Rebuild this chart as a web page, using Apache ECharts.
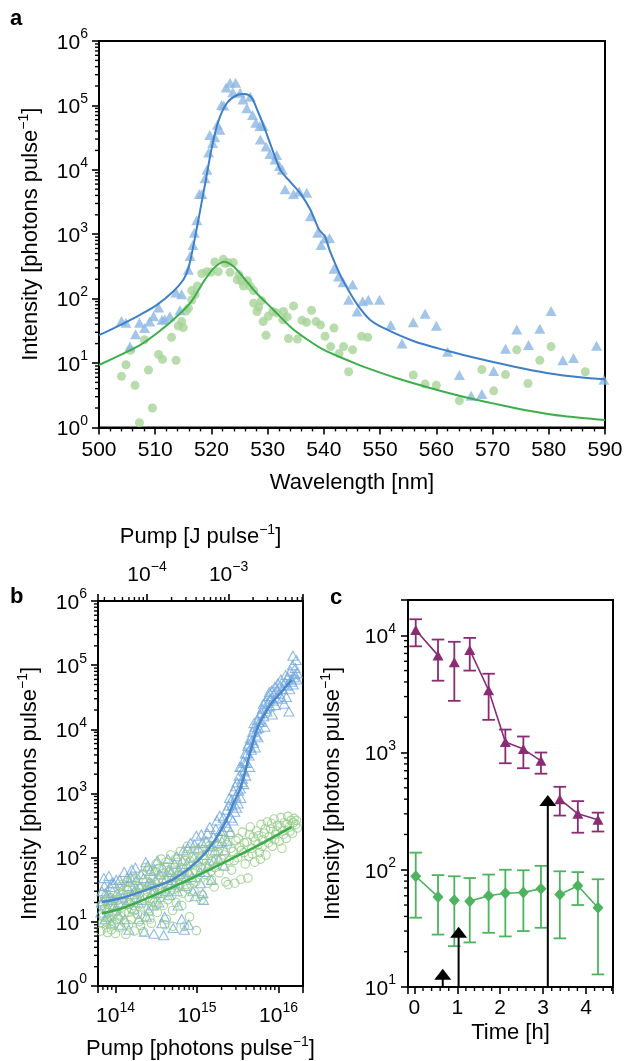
<!DOCTYPE html>
<html><head><meta charset="utf-8">
<script src="https://cdn.jsdelivr.net/npm/echarts@6/dist/echarts.min.js"></script>
<style>html,body{margin:0;padding:0;background:#fff}#c{width:633px;height:1061px}</style>
</head><body><div id="c"></div>
<script>
// ---------------- Panel a: spectra ----------------
const specBlueTri = [[504.0,45],[504.8,42],[505.5,18],[506.5,28],[507.2,42],[508.1,35],[509.0,44],[509.7,53],[510.6,73],[511.2,47],[511.7,48],[512.6,53],[513.7,124],[514.4,66],[514.7,117],[515.9,280],[516.2,460],[516.7,680],[516.96,1050],[517.4,1650],[517.85,4200],[518.3,4200],[518.86,7400],[519.2,10000],[519.5,18500],[519.7,34700],[520.2,26000],[520.6,32000],[521.05,50000],[521.5,42000],[521.8,101000],[522.2,100000],[522.6,190000],[523.3,224000],[523.8,160000],[524.3,224000],[525.1,157000],[525.6,124000],[526.3,90000],[526.9,136000],[527.3,71000],[527.9,54000],[528.6,48000],[528.7,29500],[529.2,48000],[529.7,23000],[530.4,17600],[531.3,14500],[531.6,17000],[532.1,11500],[532.6,10000],[533.1,5000],[534.6,4200],[535.6,4600],[536.95,4400],[537.6,1900],[538.9,1050],[539.5,680],[540.2,860],[541.0,870],[541.8,290],[542.6,220],[543.4,180],[544.4,96],[545.1,166],[545.9,63],[546.9,91],[547.9,96],[549.9,96],[551.9,39],[553.9,20],[555.9,43],[558.0,58],[560.0,38],[562.0,15],[564.1,6.5],[566.2,3.1],[568.1,3.3],[570.2,7.5],[572.3,16.6],[574.3,33],[576.4,19],[578.4,34],[580.4,64],[582.5,11],[584.4,12],[588.5,18.6],[589.8,5.5]];
const specGreenDot = [[504.0,6.2],[504.8,9.4],[505.6,15.8],[506.4,4.5],[507.2,1.18],[508.1,23],[508.8,7.8],[509.5,2.0],[510.6,13.6],[511.3,11.4],[512.9,25],[513.7,11],[514.1,37.6],[514.7,44],[515.0,35.5],[515.5,64],[515.9,71],[516.5,95],[516.5,133],[517.1,115],[517.5,157],[518.3,245],[519.2,262],[519.9,256],[520.6,370],[521.2,262],[522.1,407],[522.4,354],[523.0,362],[523.3,256],[523.9,362],[524.6,196],[524.9,234],[525.4,186],[525.7,157],[526.4,190],[526.9,155],[527.5,133],[527.5,85],[528.1,63],[528.4,74],[528.9,93],[529.2,44],[529.7,27],[530.1,53],[530.9,63],[531.6,60],[532.7,47],[532.8,63],[533.5,52],[533.7,24],[534.6,77],[535.3,23.5],[536.1,46],[536.9,43],[537.8,66],[538.6,44],[539.4,39],[540.2,26],[541.2,18],[541.8,35],[542.7,14],[543.5,18],[544.4,7.3],[545.1,16],[546.7,26],[547.8,25],[555.9,6.5],[558.0,4.7],[560.0,4.5],[564.1,2.6],[568.1,7.9],[570.2,3.7],[572.3,6.6],[574.3,16],[576.3,4.8],[578.4,11],[580.4,18],[586.5,7.3]];
const specBlueFit = [[500,27],[504.3,41],[507.3,56],[510.3,80],[513.2,129],[515.0,196],[515.9,295],[516.5,500],[517.1,910],[518.0,2370],[518.9,6200],[520.1,23000],[521.3,59000],[522.8,110000],[524.6,145000],[525.9,150000],[527.1,133000],[528.3,79000],[529.5,43000],[530.8,21000],[532.3,9800],[534.1,6400],[535.9,4200],[537.6,2400],[539.1,1200],[540.2,910],[541.1,540],[542.9,234],[544.7,120],[546.4,71],[548.2,47],[550.6,35],[555.9,22],[561.9,15.5],[567.8,11.5],[573.7,8.8],[579.6,7.0],[585.6,6.0],[590,5.6]];
const specGreenFit = [[500,9.3],[504.3,14],[507.3,19],[510.3,29],[513.2,47],[516.2,85],[518.6,183],[520.4,295],[522.2,375],[524.0,313],[526.3,183],[528.1,120],[531.1,66],[534.1,36],[537.1,23],[540.0,16],[544.8,10.5],[547.0,8.8],[553.0,5.8],[558.9,4.1],[564.8,3.0],[570.7,2.3],[576.7,1.8],[582.6,1.5],[590,1.3]];

// ---------------- Panel b: pump dependence ----------------
const pumpBlueTri = [[6.6e13,14],[6.8e13,30],[7.0e13,21],[7.2e13,48],[7.4e13,11],[7.7e13,25],[8.0e13,17],[8.3e13,52],[8.6e13,35],[8.9e13,9.5],[9.2e13,22],[9.5e13,40],[9.8e13,15],[7.5e13,28],
[1.04e14,28],[1.08e14,13],[1.12e14,45],[1.17e14,9],[1.22e14,24],[1.28e14,60],[1.34e14,19],[1.4e14,36],[1.46e14,7.5],[1.53e14,50],[1.6e14,27],[1.68e14,16],[1.75e14,70],[1.83e14,32],[1.92e14,11],[1.5e14,42],
[2.05e14,55],[2.15e14,22],[2.25e14,7],[2.35e14,85],[2.45e14,38],[2.55e14,15],[2.68e14,62],[2.8e14,29],[2.95e14,6.5],[3.1e14,45],[3.25e14,90],[3.4e14,20],[2.6e14,42],
[3.6e14,33],[3.8e14,70],[4.0e14,12],[4.2e14,48],[4.4e14,95],[4.6e14,26],[4.85e14,60],[5.1e14,8],[5.35e14,40],[5.6e14,105],[5.85e14,18],[3.9e14,6.2],[4.7e14,38],
[6.2e14,55],[6.5e14,11],[6.8e14,130],[7.1e14,36],[7.5e14,80],[7.9e14,9],[8.3e14,170],[8.7e14,50],[9.1e14,100],[9.5e14,25],[9.8e14,220],[7.0e14,7.5],
[1.03e15,140],[1.08e15,60],[1.13e15,230],[1.18e15,28],[1.24e15,110],[1.3e15,180],[1.36e15,75],[1.43e15,300],[1.5e15,45],[1.58e15,210],[1.66e15,130],[1.75e15,380],[1.84e15,95],[1.93e15,260],[1.2e15,22],
[2.02e15,180],[2.1e15,420],[2.2e15,130],[2.3e15,560],[2.4e15,300],[2.5e15,850],[2.6e15,420],[2.7e15,650],[2.8e15,1100],[2.9e15,520],[2.15e15,75],[2.55e15,250],
[3.0e15,900],[3.1e15,1500],[3.2e15,700],[3.3e15,1900],[3.4e15,1200],[3.5e15,2600],[3.6e15,1700],[3.7e15,3200],[3.8e15,2200],[3.9e15,4200],[3.45e15,850],[3.75e15,1400],
[4.05e15,3000],[4.2e15,5500],[4.35e15,3900],[4.5e15,7200],[4.65e15,4800],[4.8e15,9000],[4.95e15,6200],[5.1e15,11000],[5.3e15,8000],[5.5e15,14000],[5.7e15,10500],[5.9e15,17000],[4.4e15,2600],[5.2e15,5200],
[6.1e15,13000],[6.35e15,21000],[6.6e15,16000],[6.9e15,27000],[7.2e15,19000],[7.5e15,33000],[7.85e15,23000],[8.2e15,40000],[8.6e15,28000],[9.0e15,46000],[9.4e15,31000],[9.8e15,52000],[6.8e15,11000],[8.4e15,17000],
[1.02e16,36000],[1.07e16,60000],[1.12e16,42000],[1.17e16,25000],[1.22e16,70000],[1.28e16,48000],[1.34e16,19000],[1.4e16,80000],[1.45e16,55000],[1.5e16,140000],[1.55e16,65000],[1.6e16,90000],[1.65e16,120000],[1.7e16,75000],[1.25e16,32000],[1.48e16,100000],
[6.7e13,20],[7.3e13,36],[7.9e13,12],[8.5e13,24],[9.0e13,40],[9.6e13,18],[1.02e14,45],[1.1e14,20],[1.2e14,32],[1.3e14,11],[1.38e14,48],[1.48e14,22],[1.58e14,65],[1.7e14,30],[1.8e14,45],[1.9e14,20],[2.0e14,35],[2.2e14,48],[2.4e14,12],[2.5e14,75],[2.75e14,40],[2.9e14,18],[3.0e14,65],[3.2e14,28],[3.5e14,55],[3.7e14,9.5],[4.1e14,30],[4.5e14,65],[4.9e14,45],[5.3e14,80],[5.7e14,30],[6.0e14,65],[6.6e14,90],[7.3e14,48],[7.7e14,140],[8.1e14,60],[8.9e14,30],[9.3e14,160],[1.0e15,90],[1.1e15,40],[1.16e15,170],[1.26e15,60],[1.34e15,240],[1.46e15,150],[1.6e15,90],[1.7e15,280],[1.8e15,170],[1.9e15,450],[2.06e15,260],[2.25e15,350],[2.35e15,180],[2.45e15,650],[2.65e15,800],[2.75e15,380],[2.95e15,1300],[3.05e15,600],[3.25e15,1100],[3.35e15,2600],[3.55e15,1500],[3.65e15,2300],[3.85e15,3000],[3.95e15,1900],[4.1e15,4200],[4.3e15,6000],[4.55e15,5200],[4.75e15,6800],[5.0e15,12500],[5.4e15,10000],[5.6e15,7500],[5.8e15,13000],[6.2e15,18000],[6.5e15,25000],[7.0e15,21000],[7.4e15,26000],[7.7e15,38000],[8.0e15,30000],[8.8e15,36000],[9.2e15,24000],[9.6e15,42000],[1.05e16,48000],[1.1e16,30000],[1.2e16,55000],[1.3e16,65000],[1.37e16,42000],[1.43e16,60000],[1.52e16,50000],[1.58e16,72000],[1.68e16,60000]];
const pumpGreenCirc = [[6.6e13,7.2],[6.9e13,9.5],[7.1e13,12],[7.3e13,16],[7.5e13,21],[7.8e13,8.1],[8.0e13,6.8],[8.2e13,14],[8.4e13,11],[8.6e13,24],[8.9e13,7.5],[9.1e13,18],[9.3e13,13],[9.6e13,9],[9.8e13,30],[1.0e14,6.6],[7.0e13,27],[8.0e13,19],[9.0e13,10.5],
[1.03e14,15],[1.07e14,22],[1.1e14,8.2],[1.13e14,35],[1.17e14,12],[1.2e14,17],[1.25e14,27],[1.3e14,9.6],[1.34e14,6.4],[1.38e14,20],[1.42e14,42],[1.46e14,14],[1.5e14,25],[1.55e14,11],[1.6e14,31],[1.65e14,18],[1.7e14,7.2],[1.75e14,48],[1.8e14,22],[1.86e14,13],[1.92e14,35],[1.97e14,28],[1.22e14,38],[1.58e14,16],
[2.03e14,8.8],[2.1e14,19],[2.18e14,55],[2.25e14,26],[2.3e14,12],[2.38e14,42],[2.45e14,30],[2.52e14,16],[2.6e14,65],[2.68e14,23],[2.75e14,9.5],[2.82e14,36],[2.9e14,50],[2.98e14,20],[3.05e14,28],[3.15e14,80],[3.25e14,14],[3.35e14,45],[3.45e14,33],[2.2e14,7],[2.85e14,21],[3.1e14,60],
[3.55e14,24],[3.65e14,95],[3.75e14,40],[3.85e14,18],[3.95e14,58],[4.1e14,30],[4.2e14,11],[4.3e14,72],[4.45e14,36],[4.6e14,48],[4.75e14,110],[4.9e14,26],[5.05e14,8.5],[5.2e14,62],[5.4e14,42],[5.55e14,20],[5.7e14,85],[5.85e14,34],[6.0e14,53],[4.0e14,9],[5.0e14,15],
[6.2e14,125],[6.4e14,45],[6.6e14,28],[6.8e14,66],[7.0e14,8.5],[7.2e14,90],[7.4e14,38],[7.6e14,150],[7.85e14,55],[8.1e14,12],[8.3e14,75],[8.6e14,44],[8.9e14,105],[9.2e14,30],[9.5e14,62],[9.8e14,7.3],[6.5e14,18],[8.0e14,24],
[1.02e15,48],[1.06e15,130],[1.1e15,70],[1.15e15,26],[1.2e15,95],[1.25e15,55],[1.3e15,175],[1.36e15,40],[1.42e15,80],[1.48e15,62],[1.55e15,120],[1.62e15,35],[1.7e15,95],[1.78e15,150],[1.86e15,58],[1.95e15,200],[1.12e15,22],[1.5e15,45],
[2.05e15,75],[2.15e15,110],[2.25e15,42],[2.35e15,160],[2.45e15,90],[2.55e15,230],[2.65e15,64],[2.78e15,125],[2.9e15,40],[3.0e15,185],[3.15e15,100],[3.3e15,145],[3.45e15,46],[3.6e15,250],[3.75e15,120],[3.9e15,80],[2.4e15,38],
[4.1e15,175],[4.3e15,105],[4.5e15,300],[4.7e15,140],[4.9e15,210],[5.1e15,85],[5.35e15,260],[5.6e15,160],[5.85e15,120],[6.1e15,330],[6.4e15,190],[6.7e15,240],[7.0e15,110],[7.3e15,360],[7.65e15,210],[4.2e15,48],[6.0e15,95],
[8.0e15,280],[8.4e15,150],[8.8e15,400],[9.2e15,230],[9.7e15,320],[1.02e16,180],[1.07e16,420],[1.12e16,260],[1.18e16,350],[1.24e16,200],[1.3e16,440],[1.36e16,300],[1.42e16,380],[1.48e16,240],[1.55e16,410],[1.62e16,330],[1.7e16,290],[1.1e16,140],
[6.7e13,18],[7.6e13,10],[8.5e13,16],[9.4e13,22],[1.05e14,11],[1.15e14,28],[1.28e14,14],[1.36e14,32],[1.44e14,9],[1.52e14,20],[1.63e14,45],[1.72e14,15],[1.83e14,28],[1.95e14,10],[2.07e14,34],[2.22e14,17],[2.34e14,70],[2.48e14,24],[2.64e14,11],[2.72e14,40],[2.92e14,31],[3.2e14,18],[3.4e14,68],[3.7e14,28],[3.9e14,45],[4.15e14,85],[4.35e14,22],[4.55e14,60],[4.8e14,40],[5.15e14,32],[5.45e14,95],[5.75e14,52],[6.1e14,38],[6.3e14,70],[6.9e14,50],[7.3e14,110],[7.7e14,33],[8.2e14,88],[8.8e14,58],[9.3e14,130],[9.7e14,42],[1.04e15,85],[1.18e15,110],[1.28e15,68],[1.4e15,150],[1.52e15,88],[1.66e15,70],[1.82e15,120],[2.0e15,95],[2.2e15,190],[2.6e15,140],[2.85e15,90],[3.2e15,200],[3.5e15,130],[3.8e15,170],[4.4e15,230],[4.8e15,115],[5.2e15,180],[5.7e15,220],[6.3e15,150],[6.9e15,280],[7.5e15,170],[8.2e15,340],[9.0e15,190],[9.5e15,260],[1.05e16,300],[1.15e16,230],[1.27e16,330],[1.38e16,260],[1.52e16,350],[1.66e16,380]];
const pumpBlueFit = [[6.8e13,20.4],[1.26e14,24],[3.2e14,36],[5.1e14,46],[8.1e14,69],[1.32e15,126],[2.1e15,309],[2.8e15,708],[3.44e15,1250],[4.47e15,4300],[5.4e15,9800],[6.5e15,16000],[8.3e15,26000],[1.1e16,39000],[1.45e16,59000]];
const pumpGreenFit = [[6.8e13,13.5],[1.26e14,16.6],[3.2e14,27],[8.1e14,46],[2.1e15,83],[5.4e15,151],[1.45e16,302]];
const pumpMin = 6.095e13, pumpMax = 1.995e16;   // photons pulse^-1
const joulePerPhoton = 4.107e-19;                // top axis conversion

// ---------------- Panel c: time series ----------------
const timeHours  = [0.03, 0.55, 0.93, 1.29, 1.73, 2.12, 2.54, 2.95, 3.39, 3.81, 4.28];
const purpleVal  = [11100, 6740, 5900, 7500, 3400, 1230, 1070, 850, 400, 300, 267];
const purpleLo   = [8050, 4100, 2760, 5000, 1900, 810, 735, 660, 290, 207, 212];
const purpleHi   = [13700, 9200, 8800, 9500, 4700, 1570, 1370, 1000, 510, 385, 307];
const greenVal   = [88, 58.7, 55, 54, 60, 63, 64, 69, 61.5, 73, 47.5];
const greenLo    = [39, 28, 22.3, 24, 29, 27, 30, 32, 26, 50, 12.8];
const greenHi    = [140, 90, 88, 85, 91, 100, 99, 108, 97, 95.5, 83];
const arrowTime  = [0.66, 1.03, 3.11];
const arrowTip   = [14.3, 32.7, 434];

// ---------------- helpers ----------------
const FONT = '"Liberation Sans", Arial, Helvetica, sans-serif';
const FS = 21, NFS = 22;
const labRich = {
  b: {fontSize: FS, fontFamily: FONT, color: '#000', verticalAlign: 'bottom', lineHeight: 25},
  s: {fontSize: 14, fontFamily: FONT, color: '#000', verticalAlign: 'bottom', lineHeight: 16, padding: [0, 0, 12, 0]}
};
const nameRich = {
  n: {fontSize: NFS, fontFamily: FONT, color: '#000', verticalAlign: 'bottom', lineHeight: 26},
  s: {fontSize: 14, fontFamily: FONT, color: '#000', verticalAlign: 'bottom', lineHeight: 16, padding: [0, 0, 11, 0]}
};
const intensityName = '{n|Intensity [photons pulse}{s|\u22121}{n|]}';
function powLabel(v) {
  const e = Math.log10(v), r = Math.round(e);
  if (Math.abs(e - r) > 1e-6) return '';
  return '{b|10}{s|' + (r < 0 ? '\u2212' + (-r) : r) + '}';
}
function logMinors(e0, e1, lo, hi) {
  const out = [];
  for (let e = e0; e <= e1; e++) for (let m = 2; m <= 9; m++) {
    const v = m * Math.pow(10, e);
    if (v > lo * 1.0001 && v < hi * 0.9999) out.push(v);
  }
  return out;
}
const axLine = {onZero: false, lineStyle: {color: '#000', width: 2}};
const majTick = {length: 7, lineStyle: {color: '#000', width: 1.6}};
function tickSeries(xi, yi, dir, values, ref, len) {
  return {
    type: 'custom', xAxisIndex: xi, yAxisIndex: yi, silent: true, clip: false, z: 10,
    data: values.map(v => dir === 'left' ? [ref, v] : [v, ref]),
    encode: {x: 0, y: 1},
    renderItem: (params, api) => {
      const cs = params.coordSys;
      const p = api.coord([api.value(0), api.value(1)]);
      let shape;
      if (dir === 'left') shape = {x1: cs.x - len, y1: p[1], x2: cs.x, y2: p[1]};
      else if (dir === 'bottom') shape = {x1: p[0], y1: cs.y + cs.height, x2: p[0], y2: cs.y + cs.height + len};
      else shape = {x1: p[0], y1: cs.y - len, x2: p[0], y2: cs.y};
      return {type: 'line', shape, style: {stroke: '#000', lineWidth: 1.4}};
    }
  };
}
function errSeries(times, lo, hi, color) {
  return {
    type: 'custom', xAxisIndex: 3, yAxisIndex: 2, z: 3,
    data: times.map((t, i) => [t, lo[i], hi[i]]),
    encode: {x: 0, y: [1, 2]},
    renderItem: (params, api) => {
      const a = api.coord([api.value(0), api.value(1)]);
      const b = api.coord([api.value(0), api.value(2)]);
      const w = 6.3, st = {stroke: color, lineWidth: 1.8};
      return {type: 'group', children: [
        {type: 'line', shape: {x1: a[0], y1: a[1], x2: b[0], y2: b[1]}, style: st},
        {type: 'line', shape: {x1: a[0] - w, y1: a[1], x2: a[0] + w, y2: a[1]}, style: st},
        {type: 'line', shape: {x1: b[0] - w, y1: b[1], x2: b[0] + w, y2: b[1]}, style: st}
      ]};
    }
  };
}
function brokenLine(times, vals) {
  const out = [];
  for (let i = 0; i < times.length; i++) {
    out.push([times[i], vals[i]]);
    if (i < times.length - 1) {
      const br = arrowTime.find(a => a > times[i] && a < times[i + 1]);
      if (br !== undefined) out.push([br, null]);
    }
  }
  return out;
}

const option = {
  animation: false,
  backgroundColor: '#fff',
  grid: [
    {left: 99, top: 41, width: 506, height: 386.4, show: true, borderColor: '#000', borderWidth: 2, backgroundColor: 'transparent'},
    {left: 98, top: 601, width: 205, height: 386, show: true, borderColor: '#000', borderWidth: 2, backgroundColor: 'transparent'},
    {left: 408, top: 600, width: 205, height: 387, show: true, borderColor: '#000', borderWidth: 2, backgroundColor: 'transparent'}
  ],
  xAxis: [
    {gridIndex: 0, type: 'value', min: 500, max: 590, interval: 10, axisLine: axLine, axisTick: majTick,
     minorTick: {show: true, splitNumber: 5, length: 4, lineStyle: {color: '#000', width: 1.4}},
     splitLine: {show: false}, minorSplitLine: {show: false},
     axisLabel: {fontSize: FS, fontFamily: FONT, color: '#000', margin: 12},
     name: 'Wavelength [nm]', nameLocation: 'middle', nameGap: 45,
     nameTextStyle: {fontSize: NFS, fontFamily: FONT, color: '#000'}},
    {gridIndex: 1, type: 'log', min: pumpMin, max: pumpMax, position: 'bottom', axisLine: axLine, axisTick: majTick,
     splitLine: {show: false}, axisLabel: {formatter: powLabel, rich: labRich, margin: 16},
     name: '{n|Pump [photons pulse}{s|\u22121}{n|]}', nameLocation: 'middle', nameGap: 48,
     nameTextStyle: {rich: nameRich}},
    {gridIndex: 1, type: 'log', min: pumpMin * joulePerPhoton, max: pumpMax * joulePerPhoton, position: 'top',
     axisLine: axLine, axisTick: majTick, splitLine: {show: false},
     axisLabel: {formatter: powLabel, rich: labRich, margin: 15},
     name: '{n|Pump [J pulse}{s|\u22121}{n|]}', nameLocation: 'middle', nameGap: 53,
     nameTextStyle: {rich: nameRich}},
    {gridIndex: 2, type: 'value', min: -0.15, max: 4.63, axisLine: axLine, axisTick: majTick,
     splitLine: {show: false},
     axisLabel: {fontSize: FS, fontFamily: FONT, color: '#000', margin: 11,
       formatter: v => (Math.abs(v - Math.round(v)) < 1e-9 ? String(Math.round(v)) : '')},
     name: 'Time [h]', nameLocation: 'middle', nameGap: 35,
     nameTextStyle: {fontSize: NFS, fontFamily: FONT, color: '#000'}}
  ],
  yAxis: [
    {gridIndex: 0, type: 'log', min: 1, max: 1e6, axisLine: axLine, axisTick: majTick, splitLine: {show: false},
     axisLabel: {formatter: powLabel, rich: labRich, margin: 11},
     name: intensityName, nameLocation: 'middle', nameGap: 57, nameTextStyle: {rich: nameRich}},
    {gridIndex: 1, type: 'log', min: 1, max: 1e6, axisLine: axLine, axisTick: majTick, splitLine: {show: false},
     axisLabel: {formatter: powLabel, rich: labRich, margin: 11},
     name: intensityName, nameLocation: 'middle', nameGap: 57, nameTextStyle: {rich: nameRich}},
    {gridIndex: 2, type: 'log', min: 10, max: 2e4, axisLine: axLine, axisTick: majTick, splitLine: {show: false},
     axisLabel: {formatter: powLabel, rich: labRich, margin: 12},
     name: intensityName, nameLocation: 'middle', nameGap: 64, nameTextStyle: {rich: nameRich}}
  ],
  graphic: [
    {type: 'text', left: 10, top: 8, style: {text: 'a', font: 'bold 22px "Liberation Sans", Arial', fill: '#000'}},
    {type: 'text', left: 10, top: 586, style: {text: 'b', font: 'bold 22px "Liberation Sans", Arial', fill: '#000'}},
    {type: 'text', left: 330, top: 587, style: {text: 'c', font: 'bold 22px "Liberation Sans", Arial', fill: '#000'}}
  ],
  series: [
    // panel a
    {type: 'scatter', xAxisIndex: 0, yAxisIndex: 0, data: specGreenDot, symbol: 'circle', symbolSize: 9,
     itemStyle: {color: '#a6d396'}, z: 2},
    {type: 'scatter', xAxisIndex: 0, yAxisIndex: 0, data: specBlueTri, symbol: 'triangle', symbolSize: [11, 10],
     itemStyle: {color: '#8cb6e3'}, z: 2},
    {type: 'line', xAxisIndex: 0, yAxisIndex: 0, data: specBlueFit, showSymbol: false, smooth: 0.3,
     lineStyle: {color: '#3f7fc8', width: 2}, z: 4},
    {type: 'line', xAxisIndex: 0, yAxisIndex: 0, data: specGreenFit, showSymbol: false, smooth: 0.3,
     lineStyle: {color: '#3dae4c', width: 2}, z: 4},
    // panel b
    {type: 'scatter', xAxisIndex: 1, yAxisIndex: 1, data: pumpBlueTri, symbol: 'triangle', symbolSize: [10, 9],
     itemStyle: {color: 'rgba(0,0,0,0)', borderColor: '#74a9df', borderWidth: 1.1}, z: 2},
    {type: 'scatter', xAxisIndex: 1, yAxisIndex: 1, data: pumpGreenCirc, symbol: 'circle', symbolSize: 8.5,
     itemStyle: {color: 'rgba(0,0,0,0)', borderColor: '#94cc84', borderWidth: 1.1}, z: 2},
    {type: 'line', xAxisIndex: 1, yAxisIndex: 1, data: pumpBlueFit, showSymbol: false, smooth: 0.3,
     lineStyle: {color: '#4a86c8', width: 2.5}, z: 4},
    {type: 'line', xAxisIndex: 1, yAxisIndex: 1, data: pumpGreenFit, showSymbol: false, smooth: 0.3,
     lineStyle: {color: '#3cab4a', width: 2.5}, z: 4},
    // panel c
    errSeries(timeHours, purpleLo, purpleHi, '#8a2c74'),
    errSeries(timeHours, greenLo, greenHi, '#4db35f'),
    {type: 'line', xAxisIndex: 3, yAxisIndex: 2, data: brokenLine(timeHours, purpleVal), symbol: 'triangle',
     symbolSize: [11, 10], showSymbol: true, connectNulls: false, itemStyle: {color: '#8a2c74'},
     lineStyle: {color: '#8a2c74', width: 1.6}, z: 4},
    {type: 'line', xAxisIndex: 3, yAxisIndex: 2, data: brokenLine(timeHours, greenVal), symbol: 'diamond',
     symbolSize: [11, 12], showSymbol: true, connectNulls: false, itemStyle: {color: '#4db35f'},
     lineStyle: {color: '#4db35f', width: 1.6}, z: 4},
    {type: 'custom', xAxisIndex: 3, yAxisIndex: 2, z: 6,
     data: arrowTime.map((t, i) => [t, arrowTip[i]]), encode: {x: 0, y: 1},
     renderItem: (params, api) => {
       const cs = params.coordSys;
       const p = api.coord([api.value(0), api.value(1)]);
       const hw = 8.5, h = 11, bottom = cs.y + cs.height;
       return {type: 'group', children: [
         {type: 'line', shape: {x1: p[0], y1: p[1] + h - 1, x2: p[0], y2: bottom}, style: {stroke: '#000', lineWidth: 2}},
         {type: 'polygon', shape: {points: [[p[0], p[1]], [p[0] - hw, p[1] + h], [p[0] + hw, p[1] + h]]}, style: {fill: '#000'}}
       ]};
     }},
    // minor ticks
    tickSeries(0, 0, 'left', logMinors(0, 5, 1, 1e6), 500, 4),
    tickSeries(1, 1, 'left', logMinors(0, 5, 1, 1e6), pumpMin, 4),
    tickSeries(1, 1, 'bottom', logMinors(13, 16, pumpMin, pumpMax), 1, 4),
    tickSeries(2, 1, 'top', logMinors(-5, -3, pumpMin * joulePerPhoton, pumpMax * joulePerPhoton), 1, 4),
    tickSeries(3, 2, 'left', logMinors(1, 4, 10, 2e4), 0, 4),
    tickSeries(3, 2, 'bottom', [0.2,0.4,0.6,0.8,1.2,1.4,1.6,1.8,2.2,2.4,2.6,2.8,3.2,3.4,3.6,3.8,4.2,4.4,4.6], 10, 4)
  ]
};
const chart = echarts.init(document.getElementById('c'), null, {renderer: 'canvas'});
chart.setOption(option);
</script>
</body></html>
